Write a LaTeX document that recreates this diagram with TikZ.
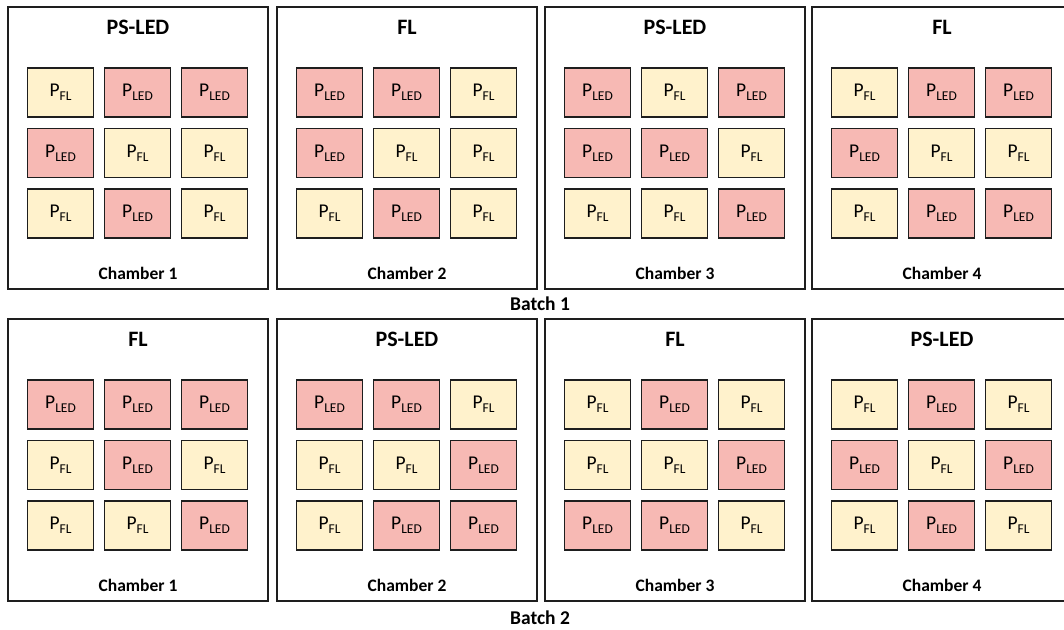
\documentclass[tikz,border=0pt]{standalone}
\usepackage{fontspec}
\setmainfont{Carlito}

\definecolor{flfill}{HTML}{FFF2CC}
\definecolor{ledfill}{HTML}{F7B9B4}
\definecolor{edgecol}{HTML}{1E1E1E}

\tikzset{
  chamberbox/.style={draw=edgecol, line width=1.6pt, minimum width=260pt,
    minimum height=282pt, inner sep=0pt, anchor=north},
  cellbox/.style={draw=edgecol, line width=1.6pt, minimum width=66pt,
    minimum height=49pt, inner sep=0pt, anchor=center,
    font=\fontsize{19.5}{19.5}\selectfont},
  cellF/.style={cellbox, fill=flfill},
  cellL/.style={cellbox, fill=ledfill},
  treattitle/.style={font=\bfseries\fontsize{22}{22}\selectfont},
  chlabel/.style={font=\bfseries\fontsize{17.5}{17.5}\selectfont},
  batchlabel/.style={font=\bfseries\fontsize{19.5}{19.5}\selectfont},
}

% plant labels with lowered subscripts
\newcommand{\cellPF}{P\raisebox{-4pt}{\fontsize{13.5}{13.5}\selectfont FL}}
\newcommand{\cellPL}{P\raisebox{-4pt}{\fontsize{13.5}{13.5}\selectfont LED}}

% #1 name, #2 centre x, #3 top y, #4 treatment, #5 chamber label,
% #6 nine cell kinds row by row (F = FL, L = LED)
\newcommand{\chamber}[6]{%
  \node[chamberbox] (#1) at (#2,#3) {};
  \node[treattitle] (#1-title) at (#2,#3+21) {#4};
  \node[chlabel] (#1-label) at (#2,#3+267) {#5};
  \foreach \kind [count=\i from 0] in {#6} {
    \pgfmathtruncatemacro\col{mod(\i,3)}
    \pgfmathtruncatemacro\row{div(\i,3)}
    \pgfmathsetmacro\xx{#2-77.5+77*\col}
    \pgfmathsetmacro\yy{#3+86.5+60.5*\row}
    \node[cell\kind] (#1-\row-\col) at (\xx,\yy) {\csname cellP\kind\endcsname};
  }%
}

\begin{document}
\begin{tikzpicture}[x=1pt,y=-1pt]
  \useasboundingbox (0,0) rectangle (1064,629);
  \fill[white] (0,0) rectangle (1064,629);
  \clip (0,0) rectangle (1064,629);

  % batch 1
  \chamber{ba}{138}{6}{PS-LED}{Chamber 1}{F,L,L,L,F,F,F,L,F}
  \chamber{bb}{407}{6}{FL}{Chamber 2}{L,L,F,L,F,F,F,L,F}
  \chamber{bc}{675}{6}{PS-LED}{Chamber 3}{L,F,L,L,L,F,F,F,L}
  \chamber{bd}{942}{6}{FL}{Chamber 4}{F,L,L,L,F,F,F,L,L}
  \node[batchlabel] (batch1) at (540,304) {Batch 1};

  % batch 2
  \chamber{ca}{138}{318}{FL}{Chamber 1}{L,L,L,F,L,F,F,F,L}
  \chamber{cb}{407}{318}{PS-LED}{Chamber 2}{L,L,F,F,F,L,F,L,L}
  \chamber{cc}{675}{318}{FL}{Chamber 3}{F,L,F,F,F,L,L,L,F}
  \chamber{cd}{942}{318}{PS-LED}{Chamber 4}{F,L,F,L,F,L,F,L,F}
  \node[batchlabel] (batch2) at (540,618) {Batch 2};
\end{tikzpicture}
\end{document}
